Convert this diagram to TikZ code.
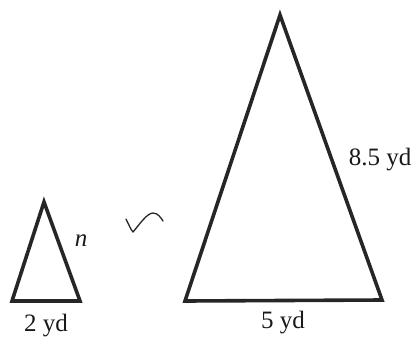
\documentclass[tikz,border=0pt]{standalone}
\usepackage{fontspec}
\setmainfont{Liberation Serif}
\begin{document}
\begin{tikzpicture}[x=1pt,y=-1pt,
  tri/.style={draw=black!85, line width=3.6pt, line join=miter},
  lbl/.style={inner sep=0pt, font=\fontsize{25}{28}\selectfont, text=black!90}]
\useasboundingbox (0,0) rectangle (419,337);
% small triangle
\coordinate (sa) at (44,202);
\coordinate (sl) at (12,301);
\coordinate (sr) at (80,301);
\draw[tri] (sa) -- (sl) -- (sr) -- cycle;
\node[lbl] (n) at (81,241) {\textit{n}};
\node[lbl] (two) at (46,326) {2 yd};
% similarity sign
\draw[black!85, line width=1.3pt, line cap=round, line join=round]
  (126,219) .. controls (129,225) and (131,230) .. (133,232)
  .. controls (139,225) and (147,213) .. (153,213)
  .. controls (158,213) and (161,218) .. (163,221);
% large triangle
\coordinate (la) at (280,15);
\coordinate (ll) at (185,301);
\coordinate (lr) at (382,300);
\draw[tri] (la) -- (ll) -- (lr) -- cycle;
\node[lbl] (eight) at (380,160) {8.5 yd};
\node[lbl] (five) at (283,323) {5 yd};
\end{tikzpicture}
\end{document}
